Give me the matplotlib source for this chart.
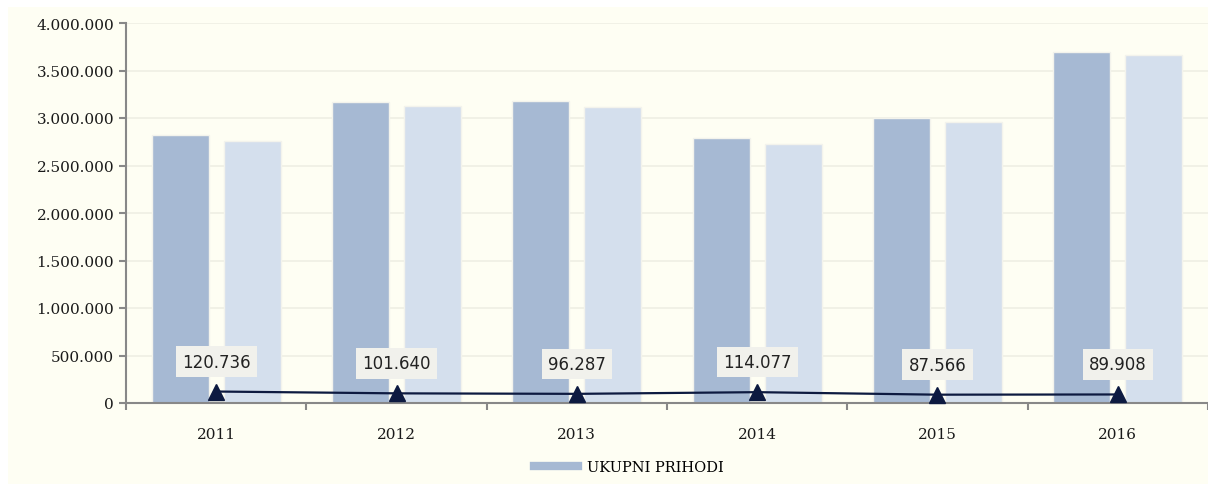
import numpy as np
import matplotlib.pyplot as plt
from matplotlib.lines import Line2D
from matplotlib.patches import Rectangle
from matplotlib.ticker import MultipleLocator, FuncFormatter

years = ['2011', '2012', '2013', '2014', '2015', '2016']
prihodi = [2821000, 3168000, 3179000, 2789000, 3000000, 3695000]
rashodi = [2758000, 3126000, 3116000, 2726000, 2958000, 3663000]
rezultat = [120736, 101640, 96287, 114077, 87566, 89908]

def dots(v, pos=None):
	return '{:,.0f}'.format(v).replace(',', '.')

fig = plt.figure(figsize=(12.08, 4.85), dpi=100, facecolor='white')
# cream panel behind the chart
fig.patches.append(Rectangle((8/1208, 0), 1, 1-8/485, transform=fig.transFigure,
	facecolor='#FEFEF3', edgecolor='none', zorder=-1))
ax = fig.add_axes([126/1208, 81/485, 1082/1208, 380/485])
ax.set_facecolor('none')

x = np.arange(len(years))
w = 0.315
ax.bar(x-0.2, prihodi, w, color='#A6B9D3', edgecolor='#F3F3EC', linewidth=1, zorder=2)
ax.bar(x+0.2, rashodi, w, color='#D4DFED', edgecolor='#F3F3EC', linewidth=1, zorder=2)
ax.plot(x, rezultat, '-^', color='#0D1A40', lw=1.6, markersize=11, zorder=4, clip_on=False)

for xi, v in zip(x, rezultat):
	ax.annotate(dots(v), (xi, v), xytext=(0, 30), textcoords='offset pixels',
		ha='center', va='center', fontsize=12, family='DejaVu Sans', color='#222222',
		bbox=dict(boxstyle='square,pad=0.38', fc='#F1F1EC', ec='none'), zorder=5)

ax.set_xlim(-0.5, -0.5 + 1082/180.6)
ax.set_ylim(0, 4000000)
ax.yaxis.set_major_locator(MultipleLocator(500000))
ax.yaxis.set_major_formatter(FuncFormatter(dots))
ax.set_xticks(x)
ax.set_xticklabels(years)
ax.set_xticks(np.arange(-0.5, 6, 1), minor=True)
ax.tick_params(axis='x', which='major', length=0, pad=17)
ax.tick_params(axis='x', which='minor', length=5, width=1.5, color='#888888')
ax.tick_params(axis='y', length=5, width=1.5, color='#888888')
for lab in ax.get_xticklabels() + ax.get_yticklabels():
	lab.set_family('DejaVu Serif')
	lab.set_fontsize(11)
	lab.set_color('#1A1A1A')
ax.grid(axis='y', color='#EFEFE4', lw=1.2, zorder=0)
ax.set_axisbelow(True)
for s in ['top', 'right']:
	ax.spines[s].set_visible(False)
ax.spines['left'].set_color('#888888')
ax.spines['bottom'].set_color('#888888')
ax.spines['left'].set_linewidth(1.5)
ax.spines['bottom'].set_linewidth(1.5)

h = [Line2D([0], [0], color='#A6B9D3', lw=6)]
fig.legend(h, ['UKUPNI PRIHODI'], loc='center', bbox_to_anchor=(629/1208, 1-468/485),
	frameon=False, prop={'family': 'DejaVu Serif', 'size': 10.5}, handlelength=3.0, handletextpad=0.6)

plt.savefig('out.png', dpi=100, facecolor='white')
plt.close()
